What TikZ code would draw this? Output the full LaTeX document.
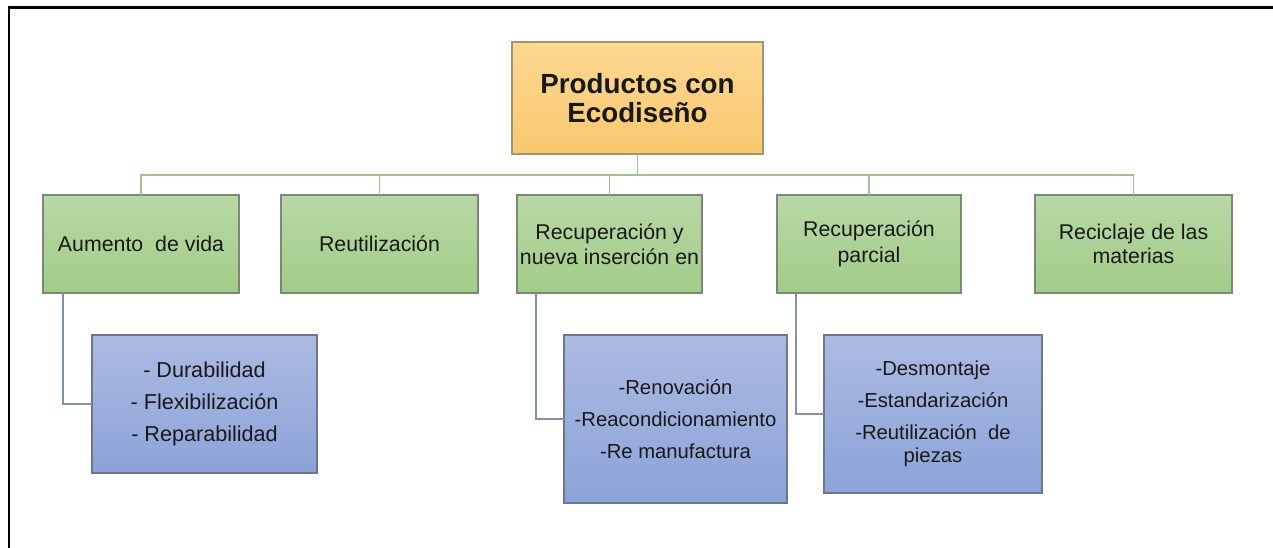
\documentclass[tikz,border=0pt]{standalone}
\usepackage{fontspec}
\setmainfont{Liberation Sans}
\definecolor{rootTop}{RGB}{252,216,146}
\definecolor{rootBot}{RGB}{249,200,110}
\definecolor{rootLine}{RGB}{160,150,115}
\definecolor{grTop}{RGB}{184,216,165}
\definecolor{grBot}{RGB}{162,204,136}
\definecolor{grLine}{RGB}{125,135,120}
\definecolor{blTop}{RGB}{172,186,226}
\definecolor{blBot}{RGB}{140,163,216}
\definecolor{blLine}{RGB}{110,118,140}
\definecolor{busGreen}{RGB}{160,192,145}
\definecolor{linkBlue}{RGB}{130,148,172}
\definecolor{txt}{RGB}{25,25,25}
\tikzset{
  rootbox/.style={draw=rootLine, line width=0.9pt, top color=rootTop, bottom color=rootBot,
    inner sep=0pt, outer sep=0pt, minimum width=188.25pt, minimum height=84pt,
    align=center, text=txt, font=\bfseries\fontsize{20.8pt}{21.5pt}\selectfont},
  catbox/.style={draw=grLine, line width=0.8pt, top color=grTop, bottom color=grBot,
    inner sep=0pt, outer sep=0pt, minimum height=73.5pt,
    align=center, text=txt, font=\fontsize{16pt}{17.5pt}\selectfont},
  catwide/.style={catbox, font=\fontsize{16pt}{19pt}\selectfont},
  detbox/.style={draw=blLine, line width=0.8pt, top color=blTop, bottom color=blBot,
    inner sep=0pt, outer sep=0pt,
    align=center, text=txt, font=\fontsize{15.2pt}{17.3pt}\selectfont},
  treeline/.style={draw=busGreen, line width=1pt},
  sublink/.style={draw=linkBlue, line width=1pt},
  frameline/.style={draw=black, line width=1.6pt}
}
\begin{document}
\begin{tikzpicture}[x=0.75pt,y=-0.75pt]
\useasboundingbox (0,0) rectangle (1273,548);
% frame (top and left edges only)
\coordinate (ftr) at (1273,7.5);
\coordinate (ftl) at (9,7.5);
\coordinate (fbl) at (9,548);
\draw[frameline] (ftr) -- (ftl) -- (fbl);

\node[rootbox] (root) at (637.5,98) {Productos con\\Ecodiseño};

\node[catbox, minimum width=147pt] (c1) at (141,244) {Aumento\ \ de vida};
\node[catbox, minimum width=147.75pt] (c2) at (379.5,244) {Reutilización};
\node[catwide, minimum width=138.75pt] (c3) at (609.5,244) {Recuperación y\\nueva inserción en};
\node[catwide, minimum width=138pt] (c4) at (869,244) {Recuperación\\parcial};
\node[catbox, minimum width=147.75pt] (c5) at (1133.5,244) {Reciclaje de las\\materias};

\node[detbox, minimum width=168.75pt, minimum height=103.5pt,
      font=\fontsize{16.2pt}{17.3pt}\selectfont] (b1) at (204.5,404)
  {- Durabilidad\\[6.5pt]- Flexibilización\\[6.5pt]- Reparabilidad};
\node[detbox, minimum width=167.25pt, minimum height=126pt] (b2) at (675.5,419)
  {-Renovación\\[6.5pt]-Reacondicionamiento\\[6.5pt]-Re manufactura};
\node[detbox, minimum width=163.5pt, minimum height=118.5pt] (b3) at (933,414)
  {-Desmontaje\\[6.5pt]-Estandarización\\[6.5pt]-Reutilización\ \ de\\piezas};

% tree connectors
\foreach \c in {c1,c2,c3,c4,c5}{
  \draw[treeline] (root.south) -- ++(0,21) -| (\c.north);
}
% sub links
\draw[sublink] ([xshift=15pt]c1.south west) |- (b1.west);
\draw[sublink] ([xshift=14.25pt]c3.south west) |- (b2.west);
\draw[sublink] ([xshift=14.25pt]c4.south west) |- (b3.west);
\end{tikzpicture}
\end{document}
